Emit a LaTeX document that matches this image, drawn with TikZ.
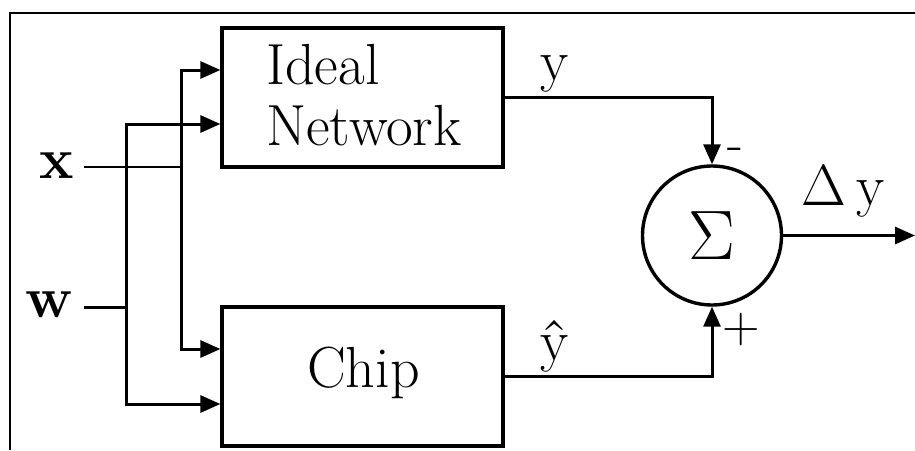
\RequirePackage{fix-cm}
\documentclass[tikz,border=0pt]{standalone}
\usetikzlibrary{arrows.meta}
\begin{document}
\begin{tikzpicture}[x=1pt,y=-1pt,
  blk/.style={draw,line width=3.2pt,minimum width=281pt,minimum height=139pt,inner sep=0pt},
  wire/.style={line width=3pt},
  arr/.style={wire,-{Triangle[length=20pt,width=17pt]}},
  lbl/.style={font=\fontsize{58}{65}\selectfont,inner sep=0pt},
  blbl/.style={font=\fontsize{58}{65}\selectfont\bfseries,inner sep=0pt},
  sml/.style={font=\fontsize{52}{56}\selectfont,inner sep=0pt}]
\useasboundingbox (0,0) rectangle (915,450);
\draw[line width=2pt] (10,450) -- (10,13) -- (915,13);
% blocks
\node[blk] (ideal) at (362.5,97.5) {};
\node[lbl,align=left,anchor=base west] (idealtxt) at (266,145) {Ideal\\[-4pt]Network};
\node[blk] (chip) at (362.5,376.5) {};
\node[lbl,anchor=base west] (chiptxt) at (307,387) {Chip};
\node[draw,circle,line width=3.4pt,minimum size=139pt,inner sep=0pt,font=\fontsize{70}{74}\selectfont] (sum) at (712,235.5) {$\Sigma$};
% inputs
\node[blbl,anchor=base] (xl) at (57,178) {x};
\node[blbl,anchor=base] (wl) at (49,317) {w};
\coordinate (xs) at (84,167);
\coordinate (ws) at (84,307);
\coordinate (jx) at (181,167);
\coordinate (jw) at (126,307);
\draw[line width=2.6pt] (xs) -- (jx);
\draw[wire] (ws) -- (jw);
\draw[arr] (jx) |- ([yshift=27.5pt]ideal.west);
\draw[arr] (jx) |- ([yshift=27.5pt]chip.west);
\draw[arr] (jw) |- ([yshift=-26.5pt]ideal.west);
\draw[arr] (jw) |- ([yshift=-27.5pt]chip.west);
% outputs
\draw[arr] (ideal.east) -| (sum.north);
\draw[arr] (chip.east) -| (sum.south);
\coordinate (out) at (915,235.5);
\draw[arr] (sum.east) -- (out);
% labels
\node[lbl,anchor=base] (ylbl) at (555,80) {y};
\node[lbl,anchor=base] (yhlbl) at (555,360) {\^{y}};
\node[sml,anchor=base] (minus) at (735,160) {-};
\node[sml,anchor=base] (plus) at (741,342) {+};
\node[lbl,anchor=base] (dy) at (843,205) {$\Delta$\,y};
\end{tikzpicture}
\end{document}
